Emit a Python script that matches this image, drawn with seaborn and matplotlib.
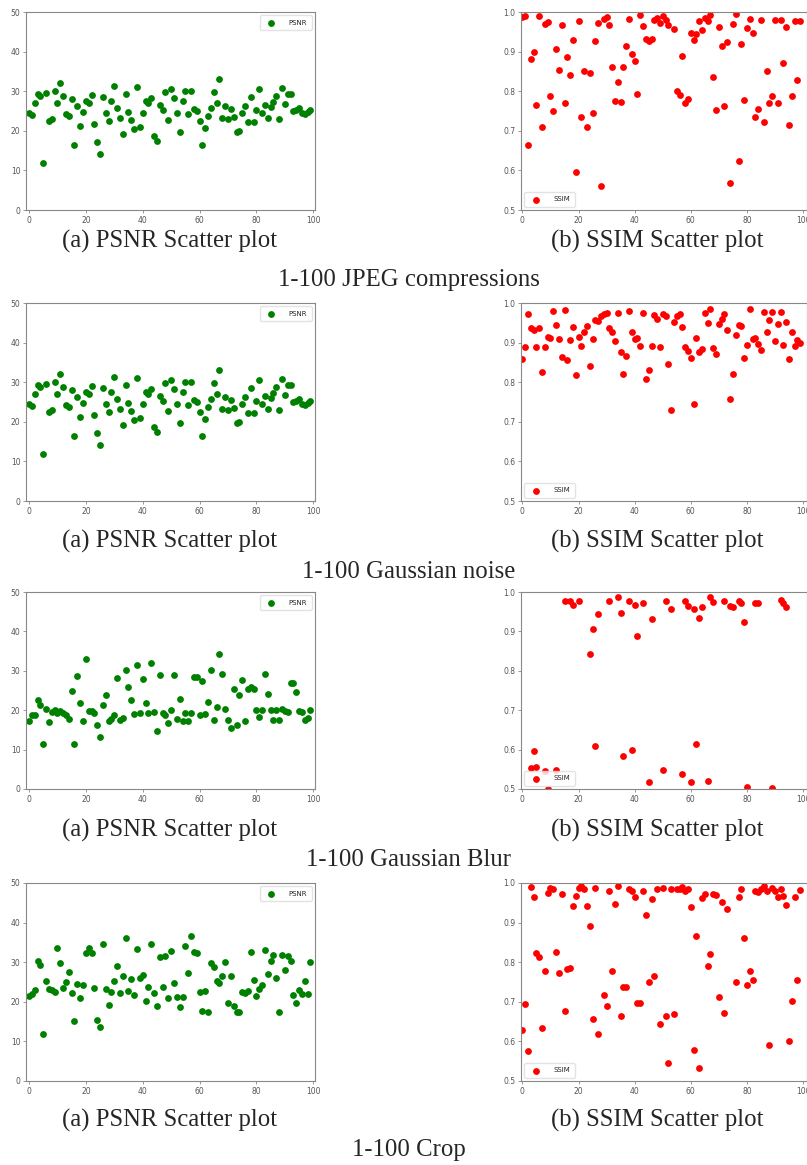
import numpy as np
import pandas as pd
import matplotlib
matplotlib.use('Agg')
import matplotlib.pyplot as plt
import seaborn as sns

nan = np.nan

# x axis: image index 0..99
image_idx = list(range(100))

# 1-100 JPEG compressions
psnr_jpeg = [24.5, 24.0, 27.0, 29.3, 28.8, 11.8, 29.5, 22.5, 23.0, 30.0,
             27.0, 32.0, 28.7, 24.2, 23.7, 28.0, 16.5, 26.3, 21.2, 24.7,
             27.6, 27.0, 29.0, 21.8, 17.1, 14.1, 28.6, 24.5, 22.5, 27.4,
             31.2, 25.7, 23.3, 19.2, 29.2, 24.8, 22.7, 20.5, 31.1, 21.0,
             24.5, 27.5, 27.0, 28.4, 18.6, 17.4, 26.4, 25.3, 29.9, 22.8,
             30.5, 28.2, 24.4, 19.6, 27.6, 30.1, 24.3, 30.0, 25.5, 25.1,
             22.6, 16.5, 20.8, 23.8, 25.8, 29.8, 27.1, 33.0, 23.3, 26.2,
             23.0, 25.5, 23.5, 19.8, 19.9, 24.4, 26.2, 22.3, 28.5, 22.3,
             25.3, 30.6, 24.4, 26.5, 23.3, 26.1, 27.2, 28.9, 23.1, 30.7,
             26.7, 29.2, 29.4, 25.0, 25.3, 25.8, 24.5, 24.2, 24.8, 25.3]
ssim_jpeg = [0.988, 0.990, 0.664, 0.881, 0.898, 0.766, 0.990, 0.709, 0.970, 0.975,
             0.788, 0.749, 0.906, 0.854, 0.967, 0.771, 0.887, 0.842, 0.930, 0.597,
             0.977, 0.735, 0.851, 0.709, 0.846, 0.746, 0.927, 0.972, 0.560, 0.983,
             0.987, 0.968, 0.862, 0.774, 0.823, 0.772, 0.861, 0.914, 0.982, 0.893,
             0.877, 0.793, 0.993, 0.965, 0.932, 0.926, 0.933, 0.980, 0.984, 0.971,
             0.990, 0.980, 0.966, nan, 0.958, 0.800, 0.790, 0.888, 0.771, 0.781,
             0.946, 0.929, 0.944, 0.977, 0.954, 0.984, 0.977, 0.992, 0.836, 0.752,
             0.963, 0.914, 0.763, 0.924, 0.568, 0.970, 0.995, 0.625, 0.918, 0.779,
             0.960, 0.982, 0.947, 0.735, 0.756, 0.980, 0.722, 0.852, 0.769, 0.789,
             0.980, 0.770, 0.981, 0.871, 0.962, 0.714, 0.787, 0.978, 0.828, 0.978]

# 1-100 Gaussian noise (PSNR panel is the same as for JPEG in the source)
psnr_noise = list(psnr_jpeg)
ssim_noise = [0.859, 0.889, 0.971, 0.936, 0.931, 0.889, 0.936, 0.825, 0.889, 0.913,
              0.912, 0.981, 0.944, 0.910, 0.864, 0.983, 0.857, 0.906, 0.939, 0.817,
              0.915, 0.892, 0.926, 0.943, 0.840, 0.908, 0.957, 0.954, 0.967, 0.971,
              0.976, 0.938, 0.926, 0.903, 0.976, 0.877, 0.821, 0.866, 0.980, 0.927,
              0.908, 0.912, 0.891, 0.974, 0.809, 0.832, 0.891, 0.969, 0.960, 0.889,
              0.973, 0.966, 0.845, 0.731, 0.953, 0.967, 0.972, 0.939, 0.888, 0.880,
              0.860, 0.744, 0.911, 0.877, 0.884, 0.974, 0.950, 0.984, 0.886, 0.871,
              0.946, 0.959, 0.971, 0.933, 0.758, 0.820, 0.920, 0.945, 0.941, 0.862,
              0.895, 0.984, 0.909, 0.911, 0.896, 0.881, 0.977, 0.927, 0.958, 0.978,
              0.905, 0.947, 0.978, 0.894, 0.951, 0.859, 0.927, 0.892, 0.907, 0.900]

# 1-100 Gaussian Blur (nan = point below the visible 0.5 limit)
psnr_blur = [17.3, 18.9, 18.7, 22.5, 21.2, 11.4, 20.3, 16.9, 19.6, 20.1,
             19.4, 19.9, 19.3, 18.7, 17.7, 25.0, 11.5, 28.8, 21.9, 17.2,
             33.0, 19.7, 19.8, 19.3, 16.2, 13.3, 21.2, 23.8, 17.3, 17.8,
             18.9, 28.2, 17.5, 18.0, 30.1, 25.8, 22.5, 19.1, 31.4, 19.2,
             27.8, 21.8, 19.4, 32.0, 19.6, 14.7, 29.0, 19.4, 18.8, 16.7,
             20.1, 29.0, 17.8, 22.8, 17.3, 19.3, 17.3, 19.3, 28.3, 28.4,
             18.9, 27.3, 19.0, 22.0, 30.2, 17.5, 20.8, 34.3, 29.2, 20.3,
             17.5, 15.5, 25.5, 16.2, 23.8, 27.6, 17.2, 25.4, 25.8, 25.3,
             20.0, 18.3, 20.0, 29.3, 24.2, 20.0, 17.5, 20.0, 17.6, 20.3,
             19.7, 19.5, 26.8, 27.0, 24.5, 19.8, 19.6, 17.4, 18.0, 20.0]
ssim_blur = [nan, nan, nan, 0.553, 0.597, 0.555, nan, nan, 0.546, 0.500,
             nan, nan, 0.549, nan, nan, 0.978, nan, 0.978, 0.967, nan,
             0.977, nan, nan, nan, 0.843, 0.907, 0.608, 0.944, nan, nan,
             nan, 0.976, nan, nan, 0.987, 0.947, 0.585, nan, 0.978, 0.598,
             0.968, 0.889, nan, 0.973, nan, 0.519, 0.931, nan, nan, nan,
             0.548, 0.977, nan, 0.958, nan, nan, nan, 0.539, 0.977, 0.965,
             0.519, 0.958, 0.615, 0.934, 0.961, nan, 0.521, 0.988, 0.975, nan,
             nan, nan, 0.976, nan, 0.965, 0.962, nan, 0.976, 0.972, 0.925,
             0.504, nan, nan, 0.972, 0.973, nan, nan, nan, nan, 0.503,
             nan, nan, 0.980, 0.972, 0.961, nan, nan, nan, nan, nan]

# 1-100 Crop
psnr_crop = [21.5, 22.0, 23.0, 30.4, 29.2, 11.8, 25.3, 23.3, 23.0, 22.4,
             33.6, 29.7, 23.6, 25.0, 27.5, 22.3, 15.2, 24.6, 20.9, 24.3,
             32.2, 33.7, 32.2, 23.5, 15.3, 13.7, 34.6, 23.2, 19.3, 22.6,
             25.2, 29.0, 22.1, 26.6, 36.1, 22.8, 25.7, 21.8, 33.3, 26.0,
             26.7, 20.3, 23.7, 34.5, 22.3, 18.9, 31.3, 23.8, 31.5, 21.0,
             32.8, 24.7, 21.1, 18.6, 21.1, 34.1, 27.3, 36.5, 32.7, 32.4,
             22.5, 17.7, 22.7, 17.4, 29.9, 28.9, 25.3, 24.7, 26.6, 30.0,
             19.6, 26.4, 18.9, 17.4, 17.4, 22.5, 22.3, 22.7, 32.6, 25.6,
             21.5, 23.3, 24.3, 33.2, 27.0, 30.2, 31.8, 26.1, 17.4, 31.8,
             28.0, 31.5, 30.4, 21.7, 19.7, 22.9, 21.9, 25.3, 21.9, 30.0]
ssim_crop = [0.630, 0.694, 0.576, 0.991, 0.965, 0.824, 0.813, 0.633, 0.779, 0.976,
             0.988, 0.985, 0.825, 0.773, 0.973, 0.676, 0.783, 0.785, 0.941, 0.966,
             0.987, 0.993, 0.984, 0.942, 0.891, 0.656, 0.988, 0.618, nan, 0.716,
             0.690, 0.979, 0.779, 0.948, 0.993, 0.664, 0.738, 0.738, 0.986, 0.981,
             0.965, 0.698, 0.698, 0.979, 0.919, 0.749, 0.960, 0.765, 0.985, 0.645,
             0.988, 0.665, 0.545, 0.985, 0.669, 0.984, 0.985, 0.990, 0.979, 0.985,
             0.940, 0.578, 0.865, 0.532, 0.963, 0.971, 0.790, 0.820, 0.971, 0.970,
             0.711, 0.951, 0.671, 0.934, nan, nan, 0.749, 0.965, 0.985, 0.860,
             0.743, 0.779, 0.756, 0.980, 0.977, 0.985, 0.993, 0.979, 0.592, 0.987,
             0.980, 0.965, 0.985, 0.968, 0.945, 0.602, 0.702, 0.965, 0.756, 0.983]

group_titles = ['1-100 JPEG compressions', '1-100 Gaussian noise',
                '1-100 Gaussian Blur', '1-100 Crop']
psnr_sets = [psnr_jpeg, psnr_noise, psnr_blur, psnr_crop]
ssim_sets = [ssim_jpeg, ssim_noise, ssim_blur, ssim_crop]

W, H = 807, 1165
sns.set_style('white')
plt.rcParams['font.family'] = ['DejaVu Sans']

fig = plt.figure(figsize=(W / 100, H / 100), dpi=100)


def px_axes(left, top, right, bottom):
    return fig.add_axes([left / W, 1 - bottom / H, (right - left) / W, (bottom - top) / H])


def style_axes(ax):
    for sp in ax.spines.values():
        sp.set_color('#888888')
        sp.set_linewidth(0.8)
    ax.tick_params(axis='both', labelsize=5.5, labelcolor='#555555', color='#888888',
                   length=2.5, width=0.6, pad=1.5, left=True, bottom=True)
    ax.set_xlabel('')
    ax.set_ylabel('')


# (top, bottom) pixel rows of each panel pair, and caption rows
rows_px = [(12, 210), (303, 501), (592, 789), (883, 1081)]
caption_y = [241, 541, 830, 1120]
title_y = [280, 572, 860, 1150]
serif = ['Liberation Serif', 'DejaVu Serif']

for i in range(4):
    top, bottom = rows_px[i]

    # PSNR panel
    ax = px_axes(26, top, 315, bottom)
    df = pd.DataFrame({'idx': image_idx, 'PSNR': psnr_sets[i]})
    sns.scatterplot(data=df, x='idx', y='PSNR', ax=ax, color='green', s=24,
                    linewidth=0, label='PSNR')
    ax.set_xlim(-1.05, 100.6)
    ax.set_ylim(0, 50)
    ax.set_xticks([0, 20, 40, 60, 80, 100])
    ax.set_yticks([0, 10, 20, 30, 40, 50])
    style_axes(ax)
    ax.legend(loc='upper right', fontsize=5, frameon=True, handletextpad=1.6,
              borderpad=0.6, edgecolor='#dddddd', fancybox=True)

    # SSIM panel (cropped at the right edge of the figure like the source)
    ax = px_axes(521, top, 807, bottom)
    df = pd.DataFrame({'idx': image_idx, 'SSIM': ssim_sets[i]})
    sns.scatterplot(data=df, x='idx', y='SSIM', ax=ax, color='red', s=24,
                    linewidth=0, label='SSIM')
    ax.set_xlim(-0.5, 101.4)
    ax.set_ylim(0.5, 1.0)
    ax.set_xticks([0, 20, 40, 60, 80, 100])
    ax.set_yticks([0.5, 0.6, 0.7, 0.8, 0.9, 1.0])
    style_axes(ax)
    ax.legend(loc='lower left', fontsize=5, frameon=True, handletextpad=1.6,
              borderpad=0.6, edgecolor='#dddddd', fancybox=True)

    fig.text(170 / W, 1 - caption_y[i] / H, '(a) PSNR Scatter plot', ha='center',
             va='center', fontsize=17.8, family=serif)
    fig.text(657 / W, 1 - caption_y[i] / H, '(b) SSIM Scatter plot', ha='center',
             va='center', fontsize=17.8, family=serif)
    fig.text(409 / W, 1 - title_y[i] / H, group_titles[i], ha='center',
             va='center', fontsize=17.8, family=serif)

fig.savefig('out.png', dpi=100, facecolor='white')
